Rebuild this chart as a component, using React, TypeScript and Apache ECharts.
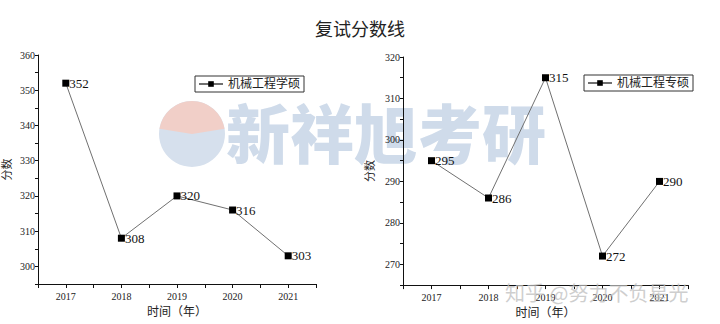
import React, { useEffect, useRef } from "react";
import * as echarts from "echarts";

const years = [2017, 2018, 2019, 2020, 2021];
const xueshuo = [352, 308, 320, 316, 303];
const zhuanshuo = [295, 286, 315, 272, 290];
const seriesNames = ["机械工程学硕", "机械工程专硕"];
const titleText = "复试分数线";
const xName = "时间（年）";
const yName = "分数";

const FONT = "'Liberation Serif', 'Noto Sans CJK SC', serif";

export default function App() {
  const ref = useRef<HTMLDivElement>(null);
  useEffect(() => {
    if (!ref.current) return;
    const chart = echarts.init(ref.current, null, { renderer: "svg" });

    const mkX = (gridIndex: number) => ({
      type: "value" as const,
      gridIndex,
      min: 2016.5,
      max: 2021.5,
      interval: 0.5,
      name: xName,
      nameLocation: "middle" as const,
      nameGap: 20,
      nameTextStyle: { fontFamily: FONT, fontSize: 12, color: "#222" },
      splitLine: { show: false },
      axisLine: { onZero: false, lineStyle: { color: "#111", width: 1 } },
      axisTick: { show: true, length: 4, lineStyle: { color: "#111" } },
      axisLabel: {
        fontFamily: FONT,
        fontSize: 10,
        color: "#222",
        margin: 7,
        showMinLabel: true,
        showMaxLabel: true,
        formatter: (v: number) => (Number.isInteger(v) ? String(v) : ""),
      },
    });

    const mkY = (gridIndex: number, min: number, max: number, gap: number) => ({
      type: "value" as const,
      gridIndex,
      min,
      max,
      interval: 5,
      name: yName,
      nameLocation: "middle" as const,
      nameGap: gap,
      nameTextStyle: { fontFamily: FONT, fontSize: 11, color: "#222" },
      splitLine: { show: false },
      axisLine: { show: true, lineStyle: { color: "#111", width: 1 } },
      axisTick: { show: true, length: 3, lineStyle: { color: "#111" } },
      axisLabel: {
        fontFamily: FONT,
        fontSize: 10,
        color: "#222",
        margin: 3,
        formatter: (v: number) => (v % 10 === 0 ? String(v) : ""),
      },
    });

    const mkSeries = (name: string, data: number[], idx: number) => ({
      type: "line" as const,
      name,
      xAxisIndex: idx,
      yAxisIndex: idx,
      data: years.map((y, i) => [y, data[i]]),
      symbol: "rect",
      symbolSize: 7,
      lineStyle: { color: "#707070", width: 1 },
      itemStyle: { color: "#000" },
      z: 5,
      label: {
        show: true,
        position: "right",
        distance: 0,
        fontFamily: FONT,
        fontSize: 13,
        color: "#111",
      },
    });

    const legendCommon = {
      orient: "vertical" as const,
      borderColor: "#333",
      borderWidth: 1,
      borderRadius: 0,
      padding: [2, 4, 2, 3],
      itemWidth: 24,
      itemHeight: 7,
      itemGap: 0,
      textStyle: { fontFamily: FONT, fontSize: 12, color: "#222" },
    };

    chart.setOption({
      animation: false,
      backgroundColor: "#fff",
      title: {
        text: titleText,
        left: "center",
        top: 16,
        textStyle: { fontFamily: FONT, fontSize: 18, fontWeight: "normal", color: "#222" },
      },
      graphic: [
        {
          type: "group",
          silent: true,
          z: 0,
          children: [
            {
              type: "circle",
              shape: { cx: 192, cy: 134, r: 33 },
              style: { fill: "#d6e0ed" },
              z: 0,
            },
            {
              type: "sector",
              shape: { cx: 192, cy: 134, r: 33, r0: 0, startAngle: Math.PI * 1.05, endAngle: Math.PI * 1.95 },
              style: { fill: "#f1cfc8" },
              z: 0,
            },
            {
              type: "text",
              x: 226,
              y: 98,
              style: {
                text: "新祥旭考研",
                fontSize: 64,
                fontWeight: 900,
                fontFamily: "'Noto Sans CJK SC'",
                fill: "#cfdbea",
              },
              z: 0,
            },
          ],
        },
        {
          type: "text",
          x: 505,
          y: 282,
          silent: true,
          z: 100,
          style: {
            text: "知乎 @努力不负星光",
            fontSize: 20,
            fontFamily: "'Noto Sans CJK SC'",
            fill: "rgba(190,190,190,0.75)",
          },
        },
      ],
      legend: [
        { ...legendCommon, data: [seriesNames[0]], left: 195, top: 76 },
        { ...legendCommon, data: [seriesNames[1]], left: 584, top: 75 },
      ],
      grid: [
        { left: 32, top: 55, width: 284, height: 229 },
        { left: 403, top: 57, width: 285, height: 229 },
      ],
      xAxis: [mkX(0), mkX(1)],
      yAxis: [mkY(0, 295, 360, 26), mkY(1, 265, 320, 28)],
      series: [mkSeries(seriesNames[0], xueshuo, 0), mkSeries(seriesNames[1], zhuanshuo, 1)],
    });
    return () => chart.dispose();
  }, []);
  return (
    <div
      ref={ref}
      style={{ position: "fixed", left: 0, top: 0, width: 720, height: 324 }}
    />
  );
}
